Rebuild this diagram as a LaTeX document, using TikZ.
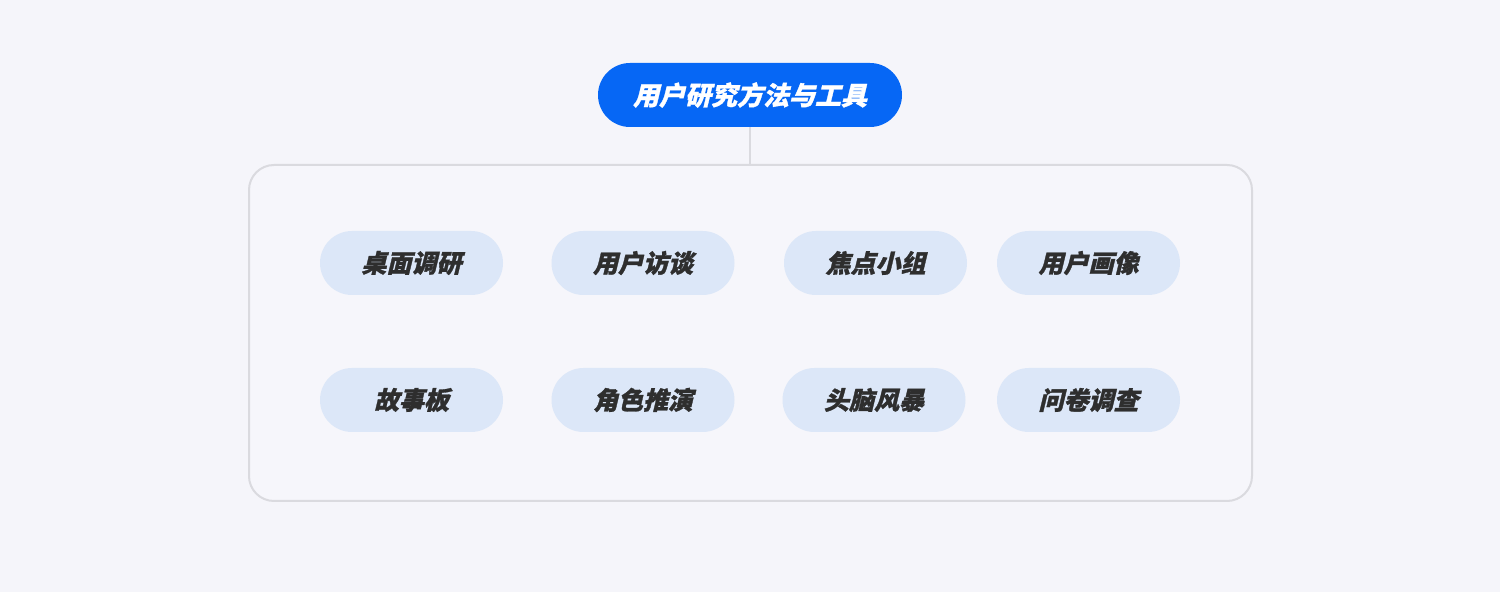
\documentclass[tikz,border=0pt]{standalone}
\usepackage{fontspec}
\newfontfamily\cjk{Noto Sans CJK SC}[BoldFeatures={FakeSlant=0.24,FakeBold=1.2}]
\definecolor{bgcol}{HTML}{F5F5FA}
\definecolor{rootblue}{HTML}{0667F5}
\definecolor{pillblue}{HTML}{DCE7F8}
\definecolor{framegray}{HTML}{DADADF}
\definecolor{inkgray}{HTML}{2E2E2E}
\tikzset{
  root/.style={fill=rootblue,text=white,rounded corners=16pt,minimum width=152pt,
    minimum height=32pt,font=\cjk\bfseries\fontsize{13}{15}\selectfont},
  method/.style={fill=pillblue,text=inkgray,rounded corners=16pt,minimum width=91.5pt,
    minimum height=32pt,font=\cjk\bfseries\fontsize{12.5}{14}\selectfont},
  frame/.style={draw=framegray,line width=1pt,fill=bgcol!85!white,rounded corners=12.5pt,
    minimum width=501.5pt,minimum height=168pt}
}
\begin{document}
\begin{tikzpicture}[x=0.5pt,y=-0.5pt]
  % background, fixes the page size
  \fill[bgcol] (0,0) rectangle (1500,592);
  \useasboundingbox (0,0) rectangle (1500,592);
  %% the outer frame and the title
  \node[frame] (frame) at (750.5,333) {};
  \node[root] (root) at (750,95) {用户研究方法与工具};
  \draw[framegray,line width=1pt] (root.south) -- (root.south |- frame.north);
  %% the methods, two rows of four
  \foreach \n/\x/\y/\t in {1/411.5/263/桌面调研,2/643/263/用户访谈,3/875.5/263/焦点小组,4/1088.5/263/用户画像,
                           5/411.5/400/故事板,6/643/400/角色推演,7/874/400/头脑风暴,8/1088.5/400/问卷调查}
  {
    \node[method] (m\n) at (\x,\y) {\t};
  }
\end{tikzpicture}
\end{document}
